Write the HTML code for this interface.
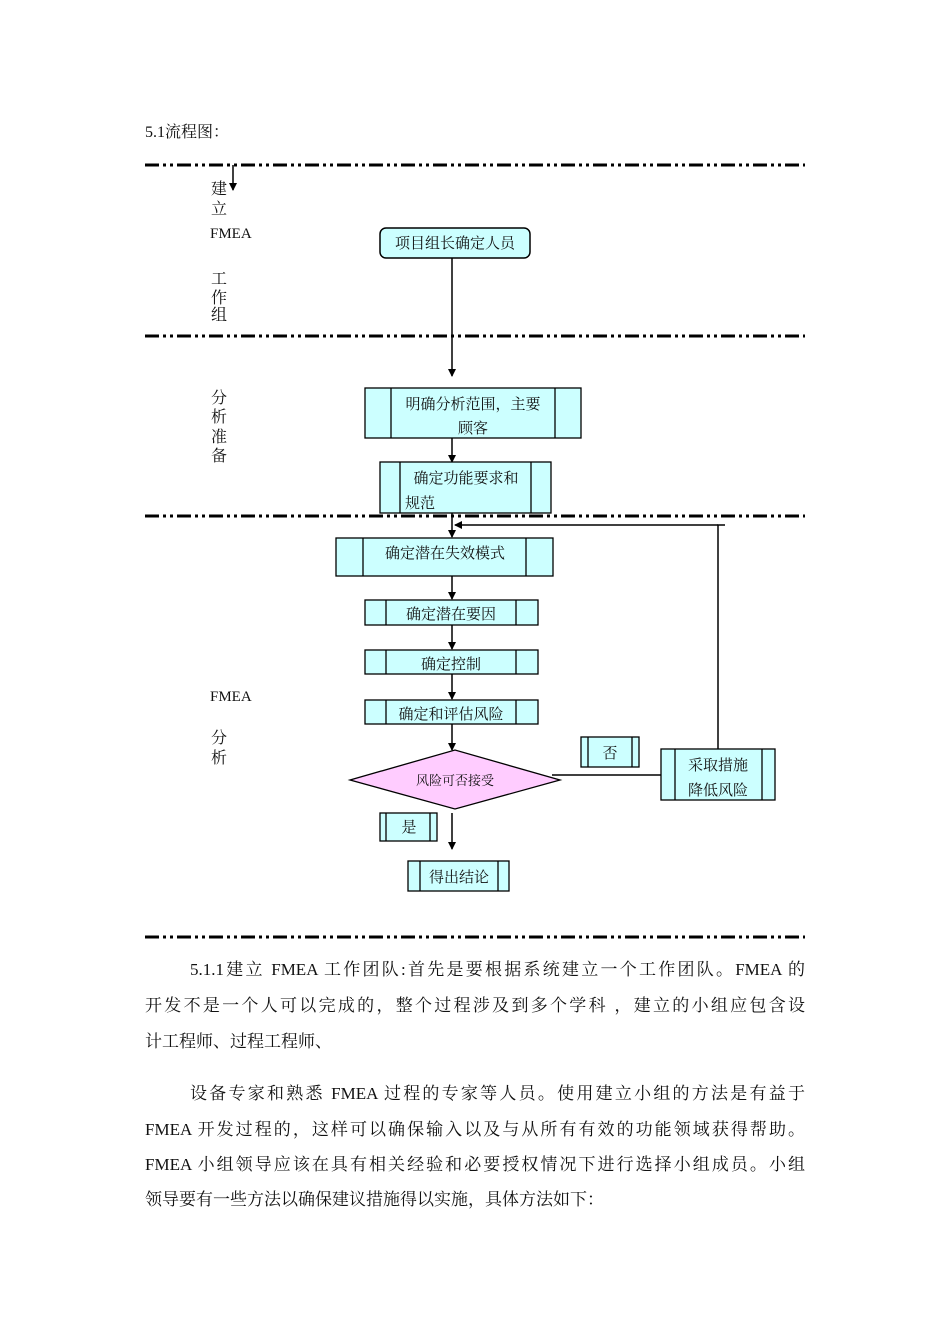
<!DOCTYPE html>
<html><head><meta charset="utf-8"><style>
body{margin:0;background:#fff;}
#p{position:relative;width:950px;height:1344px;overflow:hidden;font-family:"Liberation Serif","Noto Serif CJK SC",serif;color:#111;}
.l{position:absolute;left:145px;width:660px;font-size:17px;line-height:20px;white-space:nowrap;}
.j{text-align:justify;text-align-last:justify;}
</style></head><body><div id="p">
<div class="l" style="top:123px;font-size:16px">5.1流程图：</div>
<svg width="950" height="1344" style="position:absolute;left:0;top:0" font-family="Liberation Serif,Noto Serif CJK SC,serif">
<defs><marker id="a" markerWidth="8" markerHeight="8" refX="7" refY="4" orient="auto" markerUnits="userSpaceOnUse"><path d="M0,0 L8,4 L0,8z" fill="#000"/></marker></defs>
<g stroke="#000" stroke-width="3" stroke-dasharray="14,4,3,4,3,4">
<line x1="145" y1="165" x2="805" y2="165"/><line x1="145" y1="336" x2="805" y2="336"/><line x1="145" y1="516" x2="805" y2="516"/><line x1="145" y1="937" x2="805" y2="937"/></g>
<g stroke="#000" stroke-width="1.5" fill="none">
<line x1="233" y1="165" x2="233" y2="190" marker-end="url(#a)"/>
<line x1="452" y1="258" x2="452" y2="376" marker-end="url(#a)"/>
<line x1="452" y1="438" x2="452" y2="462" marker-end="url(#a)"/>
<line x1="452" y1="513" x2="452" y2="537" marker-end="url(#a)"/>
<line x1="452" y1="576" x2="452" y2="599" marker-end="url(#a)"/>
<line x1="452" y1="625" x2="452" y2="649" marker-end="url(#a)"/>
<line x1="452" y1="674" x2="452" y2="699" marker-end="url(#a)"/>
<line x1="452" y1="724" x2="452" y2="750" marker-end="url(#a)"/>
<line x1="452" y1="813" x2="452" y2="849" marker-end="url(#a)"/>
<polyline points="718,749 718,525 725,525"/>
<line x1="718" y1="525" x2="455" y2="525" marker-end="url(#a)"/>
<line x1="552" y1="775" x2="661" y2="775"/>
</g>
<rect x="380" y="228" width="150" height="30" rx="6" fill="#ccffff" stroke="#000" stroke-width="1.5"/>
<g fill="#ccffff" stroke="#000" stroke-width="1.3">
<rect x="365" y="388" width="216" height="50"/><line x1="391" y1="388" x2="391" y2="438"/><line x1="555" y1="388" x2="555" y2="438"/>
<rect x="380" y="462" width="171" height="51"/><line x1="400" y1="462" x2="400" y2="513"/><line x1="531" y1="462" x2="531" y2="513"/>
<rect x="336" y="538" width="217" height="38"/><line x1="363" y1="538" x2="363" y2="576"/><line x1="526" y1="538" x2="526" y2="576"/>
<rect x="365" y="600" width="173" height="25"/><line x1="386" y1="600" x2="386" y2="625"/><line x1="516" y1="600" x2="516" y2="625"/>
<rect x="365" y="650" width="173" height="24"/><line x1="386" y1="650" x2="386" y2="674"/><line x1="516" y1="650" x2="516" y2="674"/>
<rect x="365" y="700" width="173" height="24"/><line x1="386" y1="700" x2="386" y2="724"/><line x1="516" y1="700" x2="516" y2="724"/>
<rect x="380" y="813" width="57" height="28"/><line x1="386" y1="813" x2="386" y2="841"/><line x1="430" y1="813" x2="430" y2="841"/>
<rect x="408" y="861" width="101" height="30"/><line x1="420" y1="861" x2="420" y2="891"/><line x1="498" y1="861" x2="498" y2="891"/>
<rect x="581" y="737" width="58" height="30"/><line x1="588" y1="737" x2="588" y2="767"/><line x1="632" y1="737" x2="632" y2="767"/>
<rect x="661" y="749" width="114" height="51"/><line x1="675" y1="749" x2="675" y2="800"/><line x1="762" y1="749" x2="762" y2="800"/>
</g>
<polygon points="350,780 455,750 560,780 455,809" fill="#ffccff" stroke="#000" stroke-width="1.3"/>
<g font-size="15" fill="#111" text-anchor="middle">
<text x="455" y="248">项目组长确定人员</text>
<text x="473" y="409">明确分析范围，主要</text><text x="473" y="433">顾客</text>
<text x="466" y="483">确定功能要求和</text><text x="420" y="508">规范</text>
<text x="445" y="558">确定潜在失效模式</text>
<text x="451" y="619">确定潜在要因</text>
<text x="451" y="669">确定控制</text>
<text x="451" y="719">确定和评估风险</text>
<text x="455" y="785" font-size="13">风险可否接受</text>
<text x="409" y="832">是</text>
<text x="459" y="882">得出结论</text>
<text x="610" y="758">否</text>
<text x="718" y="770">采取措施</text><text x="718" y="795">降低风险</text>
</g>
<g font-size="16" fill="#111">
<text x="211" y="194">建</text><text x="211" y="214">立</text><text x="210" y="238" font-size="15">FMEA</text>
<text x="211" y="284">工</text><text x="211" y="303">作</text><text x="211" y="320">组</text>
<text x="211" y="403">分</text><text x="211" y="422">析</text><text x="211" y="442">准</text><text x="211" y="461">备</text>
<text x="210" y="701" font-size="15">FMEA</text><text x="211" y="743">分</text><text x="211" y="763">析</text>
</g>
</svg>
<div class="l j" style="top:960px;left:190px;width:615px">5.1.1建立 FMEA 工作团队:首先是要根据系统建立一个工作团队。FMEA 的</div>
<div class="l j" style="top:996px">开发不是一个人可以完成的，整个过程涉及到多个学科 ，建立的小组应包含设</div>
<div class="l" style="top:1032px">计工程师、过程工程师、</div>
<div class="l j" style="top:1084px;left:190px;width:615px">设备专家和熟悉 FMEA 过程的专家等人员。使用建立小组的方法是有益于</div>
<div class="l j" style="top:1120px">FMEA 开发过程的，这样可以确保输入以及与从所有有效的功能领域获得帮助。</div>
<div class="l j" style="top:1155px">FMEA 小组领导应该在具有相关经验和必要授权情况下进行选择小组成员。小组</div>
<div class="l" style="top:1190px">领导要有一些方法以确保建议措施得以实施，具体方法如下：</div>
</div></body></html>
